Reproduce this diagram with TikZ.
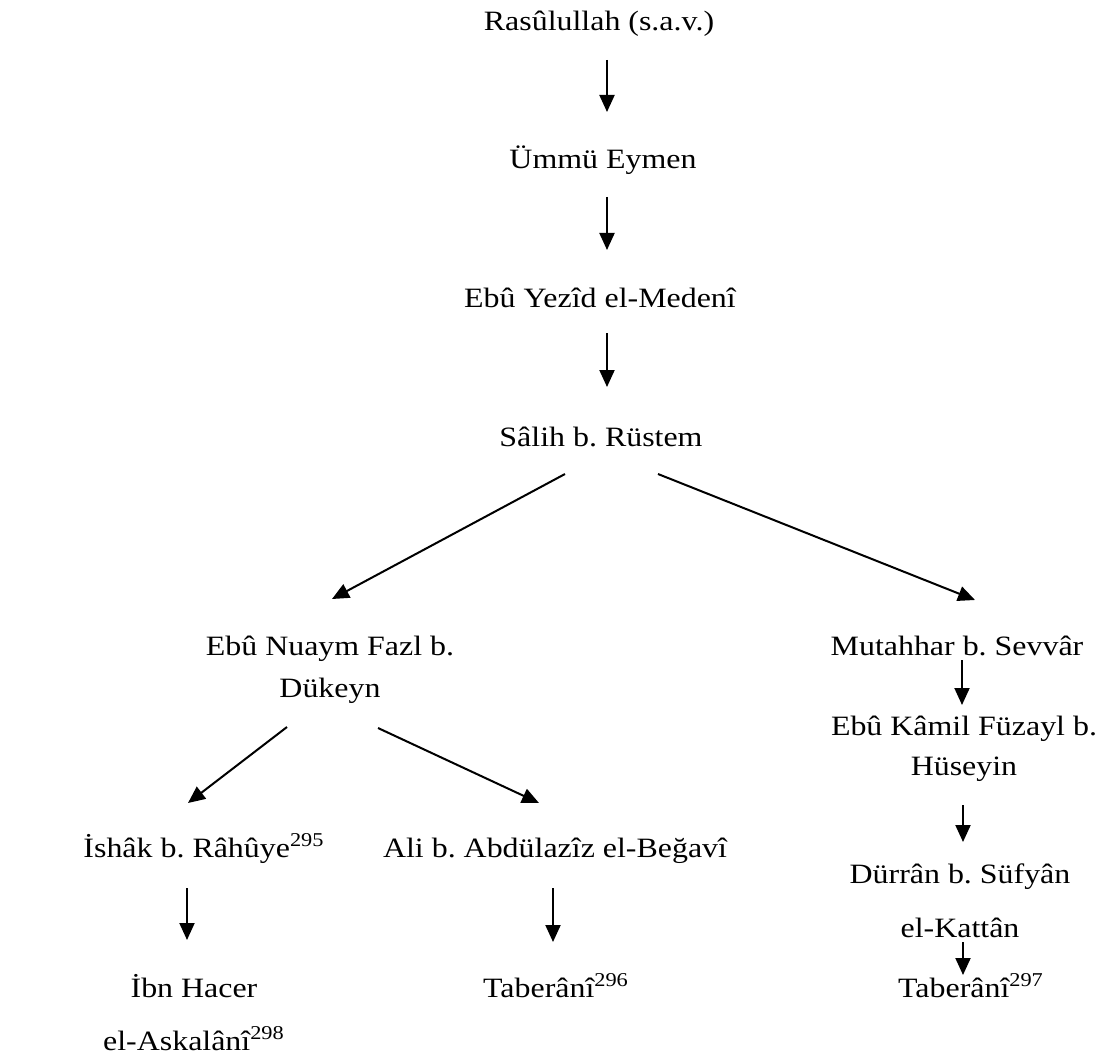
\documentclass[tikz,border=0pt]{standalone}
\usepackage{fontspec}
\setmainfont{Liberation Serif}[FakeStretch=1.14]
\usepackage{tikz}
\usetikzlibrary{arrows.meta,calc}
\frenchspacing

\begin{document}
\begin{tikzpicture}[x=0.5pt, y=-0.5pt,
		ravi/.style={anchor=base, inner sep=0pt, align=center, font=\fontsize{14}{21}\selectfont},
		arr/.style={line width=1pt, -{Triangle[length=8.5pt, width=7.5pt]}}]
			\useasboundingbox (0,0) rectangle (1102,1059);
			% chain down to Salih
			\node[ravi] (rasul) at (599,31) {Rasûlullah (s.a.v.)};
			\node[ravi] (ummu) at (603,169) {Ümmü Eymen};
			\node[ravi] (yezid) at (600,307) {Ebû Yezîd el-Medenî};
			\node[ravi] (salih) at (601,446) {Sâlih b. Rüstem};
			% left branch (base of a two-line node is its last line)
			\node[ravi] (nuaym) at (330,697) {Ebû Nuaym Fazl b.\\Dükeyn};
			\node[ravi] (ishak) at (204,857) {İshâk b. Râhûye\textsuperscript{295}};
			\node[ravi] (ali) at (555,857) {Ali b. Abdülazîz el-Beğavî};
			\node[ravi] (ibn) at (194,1050) {İbn Hacer\\[5.5pt]el-Askalânî\textsuperscript{298}};
			\node[ravi] (tabb) at (556,997) {Taberânî\textsuperscript{296}};
			% right branch
			\node[ravi] (mutahhar) at (957,655) {Mutahhar b. Sevvâr};
			\node[ravi, font=\fontsize{14}{20}\selectfont] (kamil) at (964,775) {Ebû Kâmil Füzayl b.\\Hüseyin};
			\node[ravi] (durran) at (960,937) {Dürrân b. Süfyân\\[6pt]el-Kattân};
			\node[ravi] (tabc) at (971,997) {Taberânî\textsuperscript{297}};

			\draw[arr] ($(rasul.base)+(8,29)$) -- ($(ummu.base)+(4,-57)$);
			\draw[arr] ($(ummu.base)+(4,28)$) -- ($(yezid.base)+(7,-57)$);
			\draw[arr] ($(yezid.base)+(7,26)$) -- ($(salih.base)+(6,-59)$);
			\draw[arr] ($(salih.base)+(-36,28)$) -- ($(nuaym.base)+(2,-98)$);
			\draw[arr] ($(salih.base)+(57,28)$) -- ($(mutahhar.base)+(18,-55)$);
			\draw[arr] ($(nuaym.base)+(-43,30)$) -- ($(ishak.base)+(-16,-54)$);
			\draw[arr] ($(nuaym.base)+(48,31)$) -- ($(ali.base)+(-16,-54)$);
			\draw[arr] ($(ishak.base)+(-17,31)$) -- ($(ibn.base)+(-7,-110)$);
			\draw[arr] ($(ali.base)+(-2,31)$) -- ($(tabb.base)+(-3,-55)$);
			\draw[arr] ($(mutahhar.base)+(5,5)$) -- ($(kamil.base)+(-2,-70)$);
			\draw[arr] ($(kamil.base)+(-1,30)$) -- ($(durran.base)+(3,-95)$);
			\draw[arr] ($(durran.base)+(3,5)$) -- ($(tabc.base)+(-8,-22)$);
		\end{tikzpicture}
\end{document}
